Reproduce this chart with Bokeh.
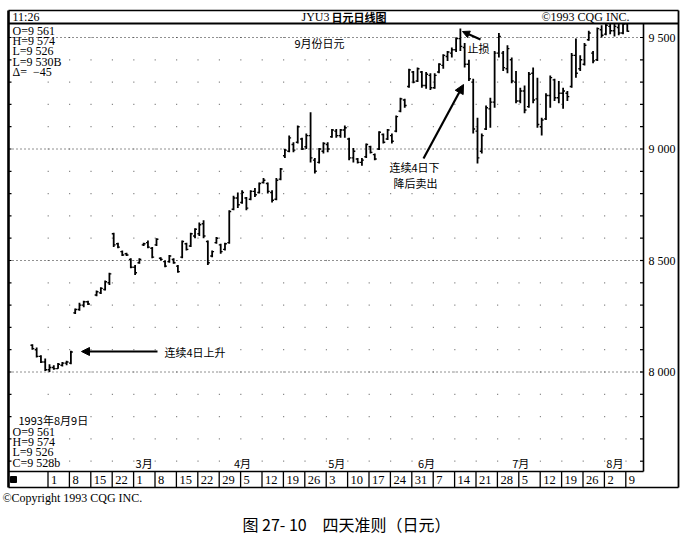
import numpy as np
import pandas as pd
from bokeh.plotting import figure
from bokeh.models import Range1d, ColumnDataSource, Arrow, NormalHead
from bokeh.core.properties import value
from bokeh.embed import file_html
from bokeh.resources import INLINE

# ---------------- data ----------------
trade_dates = [d.strftime("%Y-%m-%d") for d in pd.bdate_range("1993-01-26", "1993-08-09")
               if d.strftime("%Y-%m-%d") != "1993-02-15"]

highs = [8125, 8110, 8075, 8060, 8035, 8030, 8040, 8045, 8050, 8095,
         8285, 8310, 8320, 8320, 8365, 8380, 8410, 8445, 8625, 8580,
         8545, 8535, 8510, 8480, 8510, 8580, 8590, 8560, 8600, 8515,
         8500, 8525, 8510, 8480, 8590, 8580, 8625, 8645, 8670, 8680,
         8590, 8545, 8605, 8575, 8580, 8725, 8790, 8805, 8815, 8785,
         8815, 8825, 8850, 8870, 8850, 8815, 8870, 8915, 9000, 9060,
         9030, 9105, 9050, 9070, 9165, 8960, 9005, 9030, 9030, 9090,
         9090, 9090, 9105, 9050, 9005, 8960, 8960, 9025, 9015, 8980,
         9080, 9070, 9090, 9070, 9150, 9230, 9225, 9360, 9350, 9365,
         9350, 9345, 9340, 9340, 9385, 9425, 9440, 9455, 9500, 9540,
         9475, 9400, 9315, 9140, 9070, 9195, 9230, 9440, 9520, 9440,
         9465, 9410, 9350, 9275, 9285, 9345, 9365, 9320, 9140, 9250,
         9330, 9315, 9305, 9275, 9260, 9430, 9495, 9420, 9475, 9530,
         9440, 9545, 9555, 9565, 9560, 9565, 9560, 9570, 9574]
lows = [8100, 8065, 8040, 8005, 8000, 8010, 8015, 8025, 8030, 8035,
        8260, 8275, 8290, 8300, 8340, 8350, 8365, 8390, 8560, 8555,
        8520, 8520, 8465, 8435, 8485, 8565, 8555, 8510, 8565, 8500,
        8470, 8490, 8485, 8445, 8510, 8545, 8560, 8600, 8610, 8600,
        8480, 8515, 8575, 8530, 8545, 8575, 8725, 8735, 8755, 8725,
        8770, 8785, 8800, 8845, 8800, 8760, 8770, 8860, 8960, 8985,
        8985, 9025, 8995, 9000, 8940, 8890, 8935, 8980, 8985, 9050,
        9050, 9050, 9050, 8950, 8940, 8935, 8925, 8960, 8980, 8950,
        8995, 9025, 9040, 9025, 9075, 9165, 9185, 9275, 9295, 9300,
        9275, 9270, 9265, 9270, 9340, 9360, 9395, 9410, 9435, 9440,
        9365, 9305, 9070, 8935, 8980, 9085, 9095, 9185, 9410, 9350,
        9340, 9295, 9205, 9205, 9160, 9185, 9205, 9095, 9060, 9130,
        9185, 9215, 9205, 9180, 9215, 9275, 9320, 9350, 9375, 9485,
        9385, 9395, 9500, 9510, 9515, 9505, 9510, 9515, 9526]
opens = [8120, 8100, 8070, 8045, 8010, 8020, 8015, 8030, 8040, 8040,
         8265, 8280, 8300, 8315, 8345, 8355, 8370, 8400, 8620, 8575,
         8540, 8530, 8505, 8470, 8490, 8570, 8580, 8555, 8570, 8510,
         8495, 8495, 8505, 8475, 8515, 8575, 8565, 8610, 8620, 8665,
         8585, 8520, 8580, 8570, 8550, 8580, 8730, 8780, 8760, 8780,
         8775, 8810, 8805, 8850, 8845, 8805, 8775, 8865, 8970, 8990,
         9020, 9030, 9045, 9010, 9060, 8950, 8940, 8990, 9020, 9055,
         9080, 9060, 9085, 9045, 8960, 8955, 8940, 8965, 9010, 8975,
         9000, 9065, 9045, 9060, 9080, 9170, 9220, 9280, 9345, 9305,
         9345, 9285, 9330, 9275, 9345, 9375, 9415, 9430, 9445, 9495,
         9455, 9380, 9300, 9080, 8990, 9090, 9180, 9210, 9430, 9430,
         9360, 9400, 9300, 9215, 9260, 9190, 9340, 9225, 9100, 9135,
         9240, 9310, 9230, 9250, 9250, 9280, 9420, 9360, 9380, 9490,
         9430, 9400, 9535, 9515, 9550, 9530, 9545, 9520, 9561]
closes = [8105, 8070, 8045, 8010, 8020, 8015, 8035, 8040, 8045, 8090,
          8280, 8300, 8315, 8305, 8360, 8375, 8405, 8440, 8570, 8560,
          8525, 8525, 8470, 8445, 8505, 8575, 8560, 8515, 8595, 8505,
          8475, 8520, 8490, 8450, 8585, 8550, 8620, 8640, 8660, 8610,
          8490, 8540, 8600, 8540, 8575, 8720, 8780, 8750, 8805, 8735,
          8810, 8795, 8845, 8860, 8810, 8770, 8860, 8910, 8995, 9050,
          8995, 9100, 9000, 9060, 8960, 8900, 9000, 9025, 9000, 9085,
          9060, 9085, 9095, 8960, 8990, 8940, 8950, 9020, 8985, 8955,
          9075, 9030, 9085, 9035, 9145, 9225, 9195, 9355, 9300, 9360,
          9285, 9335, 9275, 9330, 9380, 9420, 9435, 9445, 9495, 9460,
          9380, 9315, 9090, 8960, 9060, 9185, 9210, 9430, 9505, 9365,
          9450, 9305, 9215, 9260, 9175, 9335, 9220, 9110, 9130, 9240,
          9320, 9230, 9250, 9260, 9235, 9420, 9340, 9400, 9465, 9520,
          9395, 9540, 9510, 9555, 9530, 9550, 9520, 9560, 9528]

week_starts = [d.strftime("%Y-%m-%d") for d in pd.date_range("1993-02-01", "1993-08-09", freq="7D")]
week_labels = ["1", "8", "15", "22", "1", "8", "15", "22", "29", "5", "12", "19", "26",
               "3", "10", "17", "24", "31", "7", "14", "21", "28", "5", "12", "19", "26", "2", "9"]
month_starts = ["1993-03-01", "1993-04-01", "1993-05-03", "1993-06-01", "1993-07-01", "1993-08-02"]
month_labels = ["3月", "4月", "5月", "6月", "7月", "8月"]
price_ticks = [8000, 8500, 9000, 9500]
price_tick_labels = ["8 000", "8 500", "9 000", "9 500"]
minor_ticks = list(range(7600, 9600, 100))
header_info = ["O=9 561", "H=9 574", "L=9 526", "L=9 530B", "Δ=\u00a0\u00a0−45"]
footer_info = ["O=9 561", "H=9 574", "L=9 526", "C=9 528b"]

# ---------------- layout helpers (page pixel -> data) ----------------
X0, KX = 49.0, 4.28            # page x of 1 Feb, px per trading day
Y0, KY = 37.0, 111.5 / 500.0   # page y of 9500, px per price unit
W, H = 688, 540


def dx(px):
    return (px - X0) / KX


def py(pp):
    return 9500 - (pp - Y0) / KY


base = np.datetime64("1993-02-01")
xs = np.array([np.busday_count(base, np.datetime64(d)) for d in trade_dates], dtype=float)
wk = np.array([np.busday_count(base, np.datetime64(d)) for d in week_starts], dtype=float)
mo = np.array([np.busday_count(base, np.datetime64(d)) for d in month_starts], dtype=float)

p = figure(width=W, height=H, x_range=Range1d(dx(0), dx(W)), y_range=Range1d(py(H), py(0)),
           x_axis_location=None, y_axis_location=None, toolbar_location=None,
           output_backend="svg", min_border=0, outline_line_color=None)
p.grid.visible = False

SERIF = value("Liberation Serif")
CJK = value("Noto Sans CJK SC")

# dot grid (weeks x 100s)
gx, gy = np.meshgrid(wk - 0.3, np.array(minor_ticks, dtype=float))
p.scatter(gx.ravel(), gy.ravel(), marker="square", size=1.2, color="#8a8a8a", line_color=None)

# dotted price lines
for t in price_ticks:
    p.line([dx(12), dx(641)], [t, t], line_color="#222222", line_width=1, line_dash="1 3")

# OHLC bars
src = ColumnDataSource(dict(x=xs, xl=xs - 0.45, xr=xs + 0.45, o=opens, h=highs, l=lows, c=closes))
p.segment("x", "l", "x", "h", source=src, line_color="black", line_width=1.8)
p.segment("xl", "o", "x", "o", source=src, line_color="black", line_width=1.4)
p.segment("x", "c", "xr", "c", source=src, line_color="black", line_width=1.4)

# title bar cover (clips bars above plot area)
p.quad(left=dx(8), right=dx(678), top=py(10), bottom=py(23), fill_color="white", line_color=None)


# frame lines
def seg(x0, y0, x1, y1, w):
    p.segment(dx(x0), py(y0), dx(x1), py(y1), line_color="black", line_width=w)


seg(8, 10, 678, 10, 1.5)
seg(678, 10, 678, 487, 1.8)
seg(8, 487, 678, 487, 1.5)
seg(8, 10, 8, 487, 2.6)
seg(8, 23, 678, 23, 2.0)
seg(643, 23, 643, 471, 1.6)
seg(8, 471, 643, 471, 1.7)

# week separators and labels
p.segment(wk - 0.35, py(471), wk - 0.35, py(487), line_color="black", line_width=1.3)
p.text(wk + 0.35, [py(479.5)] * len(wk), text=week_labels, text_font=SERIF, text_font_size="12.5px",
       text_baseline="middle", text_align="left", text_color="black")
p.scatter([dx(13)], [py(479)], marker="square", size=6, color="black")

# month labels
p.text(mo + 0.1, [py(462)] * len(mo), text=month_labels, text_font=CJK, text_font_size="11px",
       text_baseline="middle", text_align="left", text_color="black")

# right price axis (ticks + labels)
mt = np.array(minor_ticks, dtype=float)
p.segment([dx(643)] * len(mt), mt, [dx(639.5)] * len(mt), mt, line_color="black", line_width=1.2)
p.segment([dx(8)] * len(mt), mt, [dx(11)] * len(mt), mt, line_color="black", line_width=1.2)
p.text([dx(648)] * len(price_ticks), price_ticks, text=price_tick_labels, text_font=SERIF,
       text_font_size="12px", text_baseline="middle", text_align="left", text_color="black")

# title bar texts
p.text([dx(12)], [py(16.5)], text=["11:26"], text_font=SERIF, text_font_size="12px",
       text_baseline="middle", text_color="black")
p.text([dx(301)], [py(16.5)], text=["JYU3"], text_font=SERIF, text_font_size="12px",
       text_baseline="middle", text_color="black")
p.text([dx(331)], [py(16.5)], text=["日元日线图"], text_font=CJK, text_font_size="11px",
       text_font_style="bold", text_baseline="middle", text_color="black")
p.text([dx(541)], [py(16.5)], text=["©1993 CQG INC."], text_font=SERIF, text_font_size="12px",
       text_baseline="middle", text_color="black")

# info blocks
p.text([dx(12)] * 5, [py(30 + 10.4 * i) for i in range(5)], text=header_info, text_font=SERIF,
       text_font_size="12px", text_baseline="middle", text_color="black")
p.text([dx(18)], [py(419)], text=["1993年8月9日"], text_font=CJK, text_font_size="11px",
       text_baseline="middle", text_color="black")
p.text([dx(12)] * 4, [py(431 + 10.4 * i) for i in range(4)], text=footer_info, text_font=SERIF,
       text_font_size="12px", text_baseline="middle", text_color="black")

# annotations
p.text([dx(294)], [py(42)], text=["9月份日元"], text_font=CJK, text_font_size="11px",
       text_baseline="middle", text_color="black")
p.text([dx(164)], [py(351)], text=["连续4日上升"], text_font=CJK, text_font_size="11px",
       text_baseline="middle", text_color="black")
p.text([dx(389)], [py(166)], text=["连续4日下"], text_font=CJK, text_font_size="11px",
       text_baseline="middle", text_color="black")
p.text([dx(393)], [py(182)], text=["降后卖出"], text_font=CJK, text_font_size="11px",
       text_baseline="middle", text_color="black")
p.text([dx(467)], [py(47)], text=["止损"], text_font=CJK, text_font_size="11px",
       text_baseline="middle", text_color="black")

for (xa, ya, xb, yb, w, s) in [(157, 351, 81, 351, 1.8, 8), (423, 158, 463, 84, 2.2, 9),
                               (480, 39, 462, 31, 2.2, 7)]:
    p.add_layout(Arrow(x_start=dx(xa), y_start=py(ya), x_end=dx(xb), y_end=py(yb), line_width=w,
                       line_color="black",
                       end=NormalHead(size=s, fill_color="black", line_color="black", line_width=1)))

# footer texts
p.text([dx(2)], [py(497)], text=["©Copyright 1993 CQG INC."], text_font=SERIF, text_font_size="12px",
       text_baseline="middle", text_color="black")
p.text([dx(242)], [py(523)], text=["图 27- 10"], text_font=CJK, text_font_size="16px",
       text_baseline="middle", text_align="left", text_color="black")
p.text([dx(322)], [py(523)], text=["四天准则（日元）"], text_font=CJK, text_font_size="16px",
       text_baseline="middle", text_align="left", text_color="black")

open("out.html", "w").write(file_html(p, INLINE))
